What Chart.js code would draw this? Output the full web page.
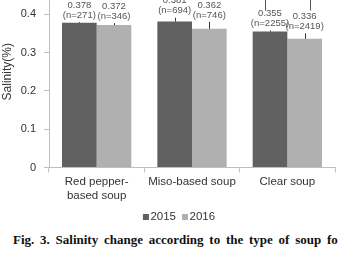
<!DOCTYPE html>
<html><head><meta charset="utf-8">
<script src="https://cdn.jsdelivr.net/npm/chart.js@4.4.1/dist/chart.umd.min.js"></script>
<style>
html,body{margin:0;padding:0;background:#fff;}
#wrap{position:relative;width:338px;height:257px;overflow:hidden;background:#fff;}
#cv{position:absolute;left:0;top:-40px;}
#cap{position:absolute;left:13px;top:232px;white-space:nowrap;font:bold 13px "Liberation Serif","Times New Roman",serif;color:#111;word-spacing:2.5px;}
</style></head><body>
<div id="wrap"><canvas id="cv" width="338" height="271"></canvas>
<div id="cap">Fig. 3. Salinity change according to the type of soup for</div></div>
<script>
const categories = [["Red pepper-","based soup"],"Miso-based soup","Clear soup"];
const seriesNames = ["2015","2016"];
const salinity2015 = [0.378,0.381,0.355];
const salinity2016 = [0.372,0.362,0.336];
const n2015 = [271,694,2255];
const n2016 = [346,746,2419];
const err2015 = [0.002,0.010,0.003];
const err2016 = [0.005,0.018,0.014];
const yTicks = [0,0.1,0.2,0.3,0.4,0.5];
const bracketCategory = 2;
const bracketTop = 0.44;
const bracketBottom = 0.41;

const FONT = "'Liberation Sans', Arial, sans-serif";
const colors = ['#606060','#b0b0b0'];

const annotate = {
  id:'annotate',
  afterDatasetsDraw(chart){
    const ctx = chart.ctx, y = chart.scales.y;
    ctx.save();
    chart.data.datasets.forEach((ds, di) => {
      const meta = chart.getDatasetMeta(di);
      meta.data.forEach((bar, i) => {
        const v = ds.data[i], e = ds.errors[i];
        const yTop = y.getPixelForValue(v + e);
        ctx.strokeStyle = '#333'; ctx.lineWidth = 1;
        ctx.beginPath();
        ctx.moveTo(Math.round(bar.x)+0.5, bar.y);
        ctx.lineTo(Math.round(bar.x)+0.5, yTop);
        ctx.stroke();
        ctx.font = '9.5px ' + FONT; ctx.fillStyle = '#555';
        ctx.textAlign = 'center'; ctx.textBaseline = 'middle';
        ctx.fillText('(n=' + ds.ns[i] + ')', bar.x, yTop - 7);
        ctx.fillText(v.toFixed(3), bar.x, yTop - 17);
      });
    });
    const b0 = chart.getDatasetMeta(0).data[bracketCategory];
    const b1 = chart.getDatasetMeta(1).data[bracketCategory];
    const x0 = Math.round(b0.x - 5) + 0.5, x1 = Math.round(b1.x + 5) + 0.5;
    const yt = y.getPixelForValue(bracketTop), yb = y.getPixelForValue(bracketBottom);
    ctx.strokeStyle = '#555';
    ctx.beginPath();
    ctx.moveTo(x0, yb); ctx.lineTo(x0, yt); ctx.lineTo(x1, yt); ctx.lineTo(x1, yb);
    ctx.stroke();
    ctx.restore();
  }
};

const customLegend = {
  id:'customLegend',
  afterDraw(chart){
    const ctx = chart.ctx;
    ctx.save();
    ctx.font = '11.5px ' + FONT;
    ctx.textBaseline = 'middle'; ctx.textAlign = 'left';
    const box = 6, gap = 1.5, itemGap = 6;
    const widths = chart.data.datasets.map(d => box + gap + ctx.measureText(d.label).width);
    const total = widths.reduce((a,b)=>a+b,0) + itemGap*(widths.length-1);
    let x = chart.width/2 + 10 - total/2;
    const yc = 257;
    chart.data.datasets.forEach((d, i) => {
      ctx.fillStyle = d.backgroundColor;
      ctx.fillRect(x, yc - box/2, box, box);
      ctx.fillStyle = '#333';
      ctx.fillText(d.label, x + box + gap, yc);
      x += widths[i] + itemGap;
    });
    ctx.restore();
  }
};

new Chart(document.getElementById('cv'), {
  type:'bar',
  data:{
    labels: categories,
    datasets:[
      {label:seriesNames[0], data:salinity2015, errors:err2015, ns:n2015, backgroundColor:colors[0], borderWidth:0, categoryPercentage:0.727, barPercentage:1},
      {label:seriesNames[1], data:salinity2016, errors:err2016, ns:n2016, backgroundColor:colors[1], borderWidth:0, categoryPercentage:0.727, barPercentage:1}
    ]
  },
  options:{
    responsive:false, animation:false, devicePixelRatio:1,
    layout:{padding:{top:16,right:3,bottom:27.5,left:0}},
    plugins:{legend:{display:false}, tooltip:{enabled:false}},
    scales:{
      x:{
        grid:{drawOnChartArea:false, offset:true, tickLength:5, color:'#c0c0c0'},
        border:{color:'#c0c0c0'},
        ticks:{padding:3, color:'#333', font:{family:FONT, size:11.5, lineHeight:1.15}, maxRotation:0, autoSkip:false},
        afterFit(s){ s.height = 36; }
      },
      y:{
        min:0, max:0.5,
        grid:{drawOnChartArea:false, tickLength:5, color:'#c0c0c0'},
        border:{color:'#c0c0c0'},
        ticks:{padding:8, color:'#333', font:{family:FONT, size:11}, callback:v => v===0 ? '0' : v.toFixed(1)},
        afterBuildTicks(s){ s.ticks = yTicks.map(v => ({value:v})); },
        title:{display:true, text:'Salinity(%)', color:'#333', font:{family:FONT, size:12}, padding:0},
        afterFit(s){ s.width = 49; }
      }
    }
  },
  plugins:[annotate, customLegend]
});
</script>
</body></html>
